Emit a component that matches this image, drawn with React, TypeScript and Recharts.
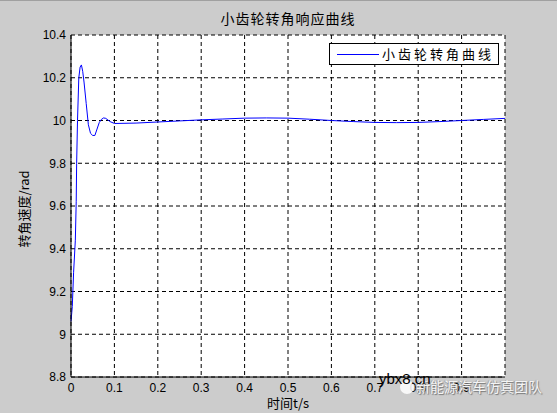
import { LineChart, Line, XAxis, YAxis, CartesianGrid } from "recharts";

// ── Dados ─────────────────────────────────────────────────────────────────────
const tempo = [
  0, 0.003, 0.006, 0.01, 0.012, 0.013, 0.015, 0.018, 0.021, 0.024, 0.027, 0.03,
  0.035, 0.04, 0.045, 0.05, 0.055, 0.06, 0.065, 0.07, 0.075, 0.08, 0.09, 0.1,
  0.15, 0.2, 0.25, 0.3, 0.35, 0.4, 0.45, 0.5, 0.55, 0.6, 0.65, 0.7, 0.75, 0.8,
  0.85, 0.9, 0.95, 1.0,
];
const angulo = [
  9.06, 9.13, 9.29, 9.44, 9.62, 9.8, 10.0, 10.2, 10.25, 10.26, 10.23, 10.18,
  10.08, 9.98, 9.94, 9.93, 9.93, 9.96, 9.99, 10.005, 10.012, 10.01, 9.995, 9.986,
  9.988, 9.993, 9.998, 10.003, 10.007, 10.011, 10.012, 10.011, 10.006, 10.0, 9.995, 9.991, 9.99, 9.991,
  9.995, 10.0, 10.005, 10.01,
];
const xTicks = [0, 0.1, 0.2, 0.3, 0.4, 0.5, 0.6, 0.7, 0.8, 0.9];
const yTicks = [8.8, 9, 9.2, 9.4, 9.6, 9.8, 10, 10.2, 10.4];

const TITULO = "小齿轮转角响应曲线";
const SERIE = "小齿轮转角曲线";
const EIXO_X = "时间t/s";
const EIXO_Y = "转角速度/rad";
const COR_SERIE = "#0000ff";

const data = tempo.map((t, i) => ({ t, v: angulo[i] }));

const CJK = '"Noto Sans CJK SC", sans-serif';
const NUM = '"Liberation Sans", Arial, sans-serif';

export default function App() {
  return (
    <div style={{ position: "fixed", left: 0, top: 0, width: 557, height: 413, background: "#cccccc", overflow: "hidden" }}>
      <div style={{ position: "absolute", left: 0, top: 0, width: 557, height: 1, background: "#a0a0a0" }} />

      <LineChart width={557} height={413} data={data} margin={{ top: 35, right: 52, bottom: 16, left: 0 }}>
        <CartesianGrid fill="#ffffff" stroke="#000" strokeDasharray="4 3" strokeOpacity={1} />
        <XAxis
          dataKey="t" type="number" domain={[0, 1]} ticks={xTicks} height={20}
          tickLine={false} tickSize={0} tickMargin={6}
          axisLine={{ stroke: "#000" }}
          tick={{ fontFamily: NUM, fontSize: 12, fill: "#000" }}
          tickFormatter={(v: number) => String(v)}
        />
        <XAxis xAxisId="top" orientation="top" dataKey="t" type="number" domain={[0, 1]} height={0}
          tick={false} tickLine={false} axisLine={{ stroke: "#000" }} />
        <YAxis
          type="number" domain={[8.8, 10.4]} ticks={yTicks} width={71}
          tickLine={false} tickSize={0} tickMargin={5}
          axisLine={{ stroke: "#000" }}
          tick={{ fontFamily: NUM, fontSize: 12, fill: "#000" }}
          tickFormatter={(v: number) => String(Math.round(v * 10) / 10)}
        />
        <YAxis yAxisId="right" orientation="right" type="number" domain={[8.8, 10.4]} width={0}
          tick={false} tickLine={false} axisLine={{ stroke: "#000" }} />
        <Line
          dataKey="v" name={SERIE} type="linear" stroke={COR_SERIE} strokeWidth={1}
          dot={false} isAnimationActive={false}
        />
      </LineChart>

      {/* legenda */}
      <div style={{
        position: "absolute", left: 329, top: 43, width: 170, height: 22, boxSizing: "border-box",
        border: "1px solid #000", background: "#fff", display: "flex", alignItems: "center", paddingLeft: 7,
      }}>
        <div style={{ width: 42, height: 1, background: COR_SERIE, marginRight: 3 }} />
        <span style={{ fontFamily: CJK, fontSize: 13, letterSpacing: 3, color: "#000", lineHeight: "16px" }}>{SERIE}</span>
      </div>

      {/* título e rótulos */}
      <div style={{ position: "absolute", left: 71, width: 434, top: 9, textAlign: "center", fontFamily: CJK, fontSize: 14, letterSpacing: 1, lineHeight: "18px", color: "#000" }}>
        {TITULO}
      </div>
      <div style={{ position: "absolute", left: 71, width: 434, top: 394, textAlign: "center", fontFamily: CJK, fontSize: 13, lineHeight: "18px", color: "#000" }}>
        {EIXO_X}
      </div>
      <div style={{
        position: "absolute", left: 24, top: 209, transform: "translate(-50%, -50%) rotate(-90deg)",
        whiteSpace: "nowrap", fontFamily: CJK, fontSize: 13, lineHeight: "16px", color: "#000",
      }}>
        {EIXO_Y}
      </div>

      {/* marca d'água */}
      <div style={{ position: "absolute", left: 400, top: 380, width: 14, height: 14, borderRadius: "50%", background: "rgba(255,255,255,0.85)" }} />
      <div style={{
        position: "absolute", left: 416, top: 377, fontFamily: CJK, fontSize: 14, lineHeight: "18px",
        color: "#f4f4f4", textShadow: "1px 1px 1px #777, -1px 0 1px #999", whiteSpace: "nowrap",
      }}>
        新能源汽车仿真团队
      </div>
      <div style={{ position: "absolute", left: 379, top: 371, fontFamily: NUM, fontSize: 15, color: "#000", lineHeight: "16px" }}>ybx8.cn</div>
    </div>
  );
}
